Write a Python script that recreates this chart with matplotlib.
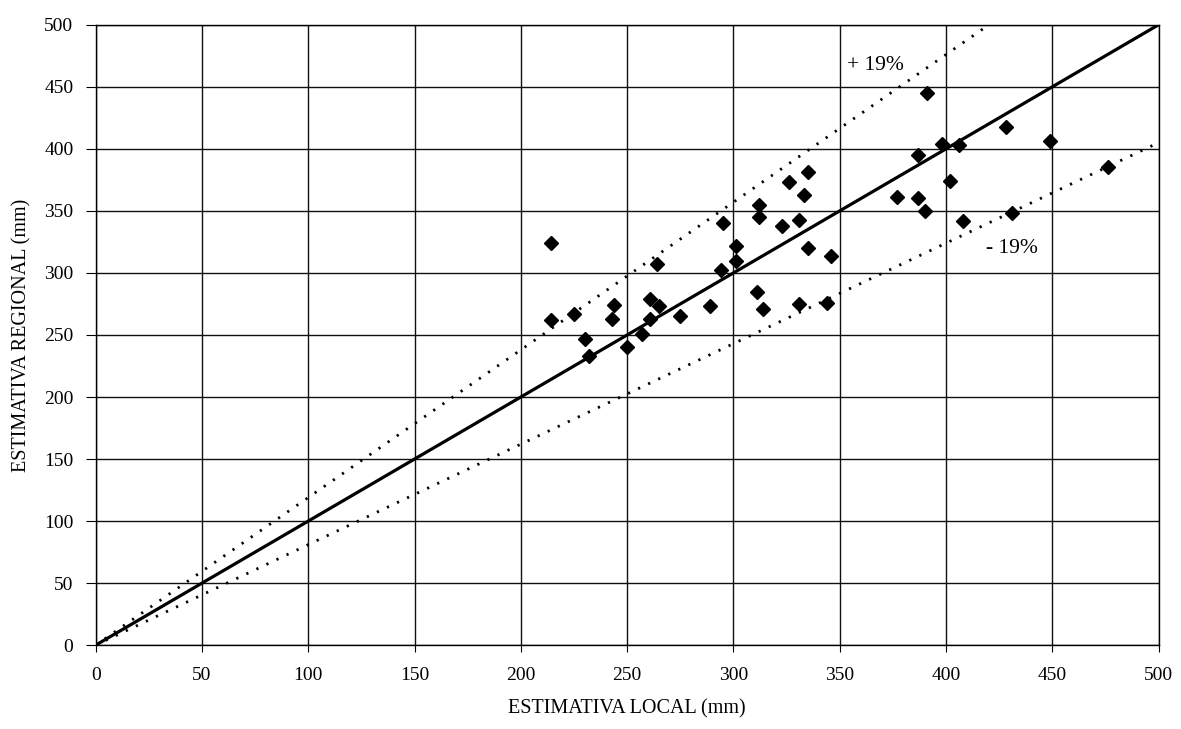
import matplotlib
matplotlib.use("Agg")
import matplotlib.pyplot as plt
import numpy as np

plt.rcParams['font.family'] = ['Liberation Serif', 'DejaVu Serif']

# Data
local_mm = [214, 295, 264, 294, 261, 265, 244, 225, 214, 243, 261, 275, 289,
            230, 257, 232, 250, 312, 312, 323, 331, 301, 301, 335, 346, 311,
            314, 331, 344, 391, 335, 326, 333, 387, 377, 387, 390, 398, 406,
            428, 449, 402, 476, 408, 431]
regional_mm = [324, 340, 307, 302, 279, 273, 274, 267, 262, 263, 263, 265, 273,
               247, 251, 233, 240, 355, 345, 338, 343, 322, 310, 320, 314, 285,
               271, 275, 276, 445, 381, 373, 363, 395, 361, 360, 350, 404, 403,
               418, 406, 374, 385, 342, 348]
tolerance = 0.19
ref_line_x = [0, 500]
ticks = list(range(0, 501, 50))

fig = plt.figure(figsize=(11.81, 7.29), dpi=100)
ax = fig.add_axes([0.081, 0.115, 0.900, 0.851])

ax.set_xlim(0, 500)
ax.set_ylim(0, 500)
ax.set_xticks(ticks)
ax.set_yticks(ticks)
ax.grid(True, color='#111111', linewidth=1.0)
ax.set_axisbelow(True)

x = np.array(ref_line_x, dtype=float)
ax.plot(x, x, color='black', linewidth=2.3, zorder=3)
ax.plot(x, x * (1 + tolerance), color='black', linewidth=2.0,
        linestyle=(0, (0.8, 3.2)), zorder=3)
ax.plot(x, x * (1 - tolerance), color='black', linewidth=2.0,
        linestyle=(0, (0.8, 3.2)), zorder=3)

ax.plot(local_mm, regional_mm, linestyle='none', marker='D', markersize=7.5,
        color='black', zorder=4)

ax.text(367, 467, '+ 19%', fontsize=15.5, ha='center', va='center')
ax.text(431, 320, '- 19%', fontsize=15.5, ha='center', va='center')

for s in ax.spines.values():
    s.set_color('black')
    s.set_linewidth(1.0)

ax.tick_params(axis='x', direction='out', length=5, pad=11, labelsize=14)
ax.tick_params(axis='y', direction='out', length=7, pad=9, labelsize=14)

ax.set_xlabel('ESTIMATIVA LOCAL (mm)', fontsize=14.5, labelpad=11)
ax.set_ylabel('ESTIMATIVA REGIONAL (mm)', fontsize=14.5, labelpad=9)

fig.savefig('out.png', dpi=100, facecolor='white')
